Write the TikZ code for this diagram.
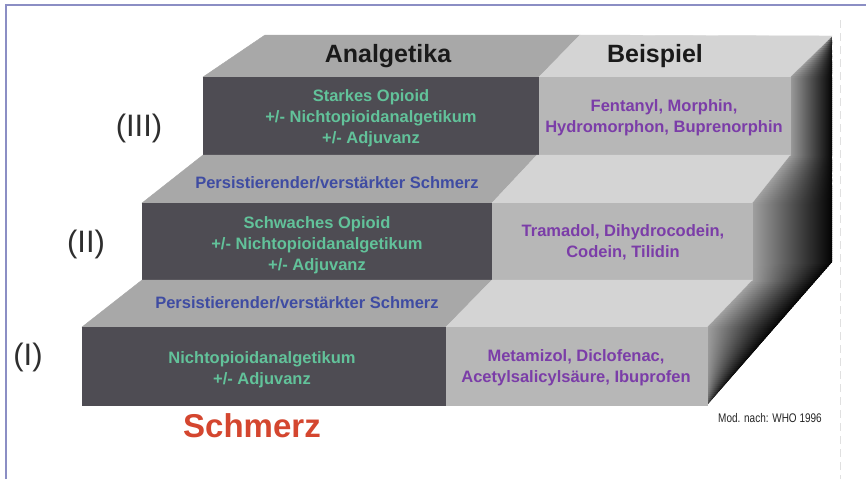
\documentclass[tikz,border=0pt]{standalone}
\usepackage{fontspec}
\setmainfont{Liberation Sans}
\definecolor{topL}{HTML}{A8A8A8}
\definecolor{topR}{HTML}{D4D4D4}
\definecolor{frontD}{HTML}{4E4C53}
\definecolor{frontL}{HTML}{B7B7B7}
\definecolor{sideL}{HTML}{A6A6A6}
\definecolor{tgreen}{HTML}{62C29A}
\definecolor{tpurple}{HTML}{7B3DA8}
\definecolor{tblue}{HTML}{3F4CA2}
\definecolor{thead}{HTML}{1A1A1A}
\definecolor{tred}{HTML}{D4462F}
\definecolor{frameC}{HTML}{8B8EC4}
\begin{document}
\begin{tikzpicture}[x=1pt,y=-1pt,
  face/.style={line width=0.4pt},
  hdr/.style={text=thead, font=\fontsize{25}{28}\selectfont\bfseries, inner sep=0pt, anchor=base},
  grn/.style={text=tgreen, font=\fontsize{16.5}{20.8}\selectfont\bfseries, align=center, inner sep=0pt},
  pur/.style={text=tpurple, font=\fontsize{16.5}{21}\selectfont\bfseries, align=center, inner sep=0pt},
  blu/.style={text=tblue, font=\fontsize{16.5}{20}\selectfont\bfseries, inner sep=0pt},
  rom/.style={text=black!82, font=\fontsize{31}{34}\selectfont, inner sep=0pt},
  schtxt/.style={text=tred, font=\fontsize{33}{36}\selectfont\bfseries, inner sep=0pt},
  srctxt/.style={text=black!85, font=\fontsize{12.5}{14}\selectfont, inner sep=0pt},
  framestyle/.style={draw=frameC, line width=2.2pt}]
\useasboundingbox (0,0) rectangle (866,479);
\fill[white] (0,0) rectangle (866,479);
% frame
\draw[framestyle] (6,479) -- (6,5) -- (866,5);
\draw[black!12, line width=1pt, dash pattern=on 8pt off 5pt] (840,20) -- (840,479);
% side face with gradient
\begin{scope}
\clip (790,77) -- (832,36) -- (832,262) -- (707,405) -- (707,327) -- (752,280) -- (752,203) -- (790,155) -- cycle;
\foreach \yy in {34,36,...,406} {
  \pgfmathsetmacro\xl{\yy<77 ? 832-(\yy-37)*1.05 : (\yy<155 ? 790 : (\yy<203 ? 790-(\yy-155)*0.79 : (\yy<280 ? 752 : (\yy<327 ? 752-(\yy-280)*0.957 : 707))))}
  \pgfmathsetmacro\xr{\yy<262 ? 832 : 832-(\yy-262)*0.874}
  \pgfmathsetmacro\xlo{min(\xl,\xr)-3}
  \fill[left color=sideL, right color=black] (\xlo,\yy) rectangle (\xr+1,\yy+2.4);
}
\end{scope}
% step III
\filldraw[face, fill=topL, draw=topL] (265,35) -- (580,35) -- (539,77) -- (203,77) -- cycle;
\filldraw[face, fill=topR, draw=topR] (580,35) -- (832,36) -- (790,77) -- (539,77) -- cycle;
\filldraw[face, fill=frontD, draw=frontD] (203,77) rectangle (539,155);
\filldraw[face, fill=frontL, draw=frontL] (539,77) rectangle (790,155);
% step II
\filldraw[face, fill=topL, draw=topL] (203,155) -- (537,155) -- (492,203) -- (142,203) -- cycle;
\filldraw[face, fill=topR, draw=topR] (537,155) -- (790,155) -- (752,203) -- (492,203) -- cycle;
\filldraw[face, fill=frontD, draw=frontD] (142,203) rectangle (492,280);
\filldraw[face, fill=frontL, draw=frontL] (492,203) rectangle (752,280);
% step I
\filldraw[face, fill=topL, draw=topL] (142,280) -- (492,280) -- (446,327) -- (82,327) -- cycle;
\filldraw[face, fill=topR, draw=topR] (492,280) -- (752,280) -- (707,327) -- (446,327) -- cycle;
\filldraw[face, fill=frontD, draw=frontD] (82,327) rectangle (446,405);
\filldraw[face, fill=frontL, draw=frontL] (446,327) rectangle (707,405);
% headers
\node[hdr] (hA) at (388,62) {Analgetika};
\node[hdr] (hB) at (655,62) {Beispiel};
% texts
\node[grn] (g3) at (371,118.5) {Starkes Opioid\\+/- Nichtopioidanalgetikum\\+/- Adjuvanz};
\node[pur] (p3) at (664,117.5) {Fentanyl, Morphin,\\Hydromorphon, Buprenorphin};
\node[blu] (b2) at (337,183) {Persistierender/verstärkter Schmerz};
\node[grn] (g2) at (317,245.5) {Schwaches Opioid\\+/- Nichtopioidanalgetikum\\+/- Adjuvanz};
\node[pur] (p2) at (623,242.5) {Tramadol, Dihydrocodein,\\Codein, Tilidin};
\node[blu] (b1) at (297,303) {Persistierender/verstärkter Schmerz};
\node[grn] (g1) at (262,369.5) {Nichtopioidanalgetikum\\+/- Adjuvanz};
\node[pur] (p1) at (576,367.5) {Metamizol, Diclofenac,\\Acetylsalicylsäure, Ibuprofen};
% roman numerals
\node[rom] (r3) at (139,128) {(III)};
\node[rom] (r2) at (86,244) {(II)};
\node[rom] (r1) at (28,357) {(I)};
% bottom
\node[srctxt, anchor=east] (mod) at (822,418) {\scalebox{0.8}[1]{Mod. nach: WHO 1996}};
\node[schtxt] (sch) at (252,426) {Schmerz};
\end{tikzpicture}
\end{document}
